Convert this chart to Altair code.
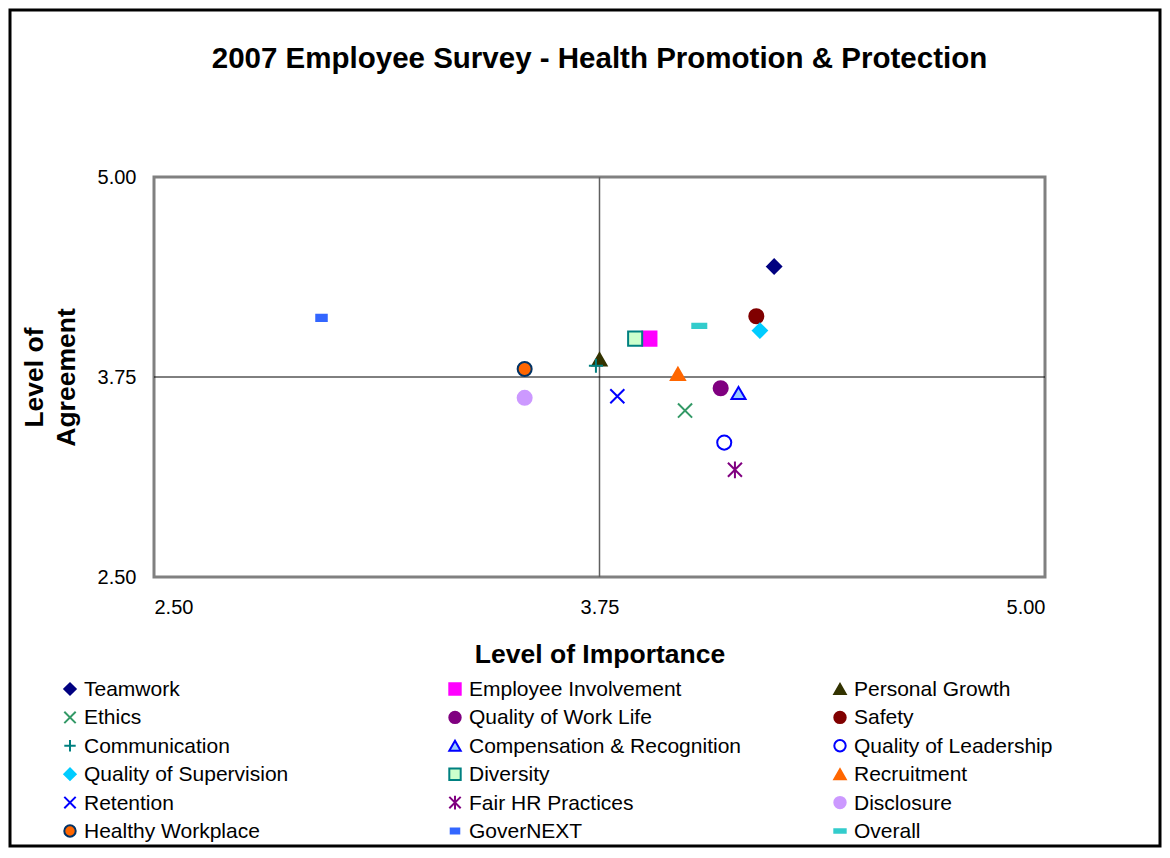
import altair as alt
import pandas as pd

items = ["Teamwork", "Employee Involvement", "Personal Growth",
         "Ethics", "Quality of Work Life", "Safety",
         "Communication", "Compensation & Recognition", "Quality of Leadership",
         "Quality of Supervision", "Diversity", "Recruitment",
         "Retention", "Fair HR Practices", "Disclosure",
         "Healthy Workplace", "GoverNEXT", "Overall"]
importance = [4.24, 3.89, 3.75, 3.99, 4.09, 4.19, 3.74, 4.14, 4.10,
              4.20, 3.85, 3.97, 3.80, 4.13, 3.54, 3.54, 2.97, 4.03]
agreement = [4.44, 3.99, 3.86, 3.54, 3.68, 4.13, 3.82, 3.65, 3.34,
             4.04, 3.99, 3.77, 3.63, 3.17, 3.62, 3.80, 4.12, 4.07]

X_PATH = "M-1,-1L1,1M-1,1L1,-1"
PLUS_PATH = "M-1,0L1,0M0,-1L0,1"
STAR_PATH = "M-1,-1L1,1M-1,1L1,-1M0,-1.2L0,1.2"
DASH_S = "M-0.75,-0.45L0.75,-0.45L0.75,0.45L-0.75,0.45Z"
DASH_L = "M-1,-0.3L1,-0.3L1,0.3L-1,0.3Z"

shapes = ["diamond", "square", "triangle-up",
          X_PATH, "circle", "circle",
          PLUS_PATH, "triangle-up", "circle",
          "diamond", "square", "triangle-up",
          X_PATH, STAR_PATH, "circle",
          "circle", DASH_S, DASH_L]
fills = ["#000080", "#FF00FF", "#333300",
         "transparent", "#800080", "#800000",
         "transparent", "#99CCFF", "transparent",
         "#00CCFF", "#CCFFCC", "#FF6600",
         "transparent", "transparent", "#CC99FF",
         "#FF6600", "#3366FF", "#33CCCC"]
strokes = ["#000080", "#FF00FF", "#333300",
           "#339966", "#800080", "#800000",
           "#008080", "#0000FF", "#0000FF",
           "#00CCFF", "#008080", "#FF6600",
           "#0000FF", "#800080", "#CC99FF",
           "#003366", "#3366FF", "#33CCCC"]
sizes = [200, 196, 220, 180, 175, 175, 190, 180, 175,
         175, 175, 220, 320, 190, 175, 175, 170, 280]

df = pd.DataFrame({"item": items, "importance": importance, "agreement": agreement})
legend_df = pd.DataFrame({"item": items,
                          "col": [i % 3 for i in range(len(items))],
                          "row": [i // 3 for i in range(len(items))]})

FONT = "Liberation Sans"
W, H = 891, 400
PAD_L, PAD_T, PAD_R, PAD_B = 146, 169, 117, 271

xs = alt.Scale(domain=[2.5, 5.0], nice=False, zero=False)
ys = alt.Scale(domain=[2.5, 5.0], nice=False, zero=False)
shape_s = alt.Scale(domain=items, range=shapes)
fill_s = alt.Scale(domain=items, range=fills)
stroke_s = alt.Scale(domain=items, range=strokes)

points = alt.Chart(df).mark_point(filled=True, opacity=1, strokeWidth=2).encode(
    x=alt.X("importance:Q", scale=xs,
            axis=alt.Axis(values=[2.5, 3.75, 5.0], format=".2f", title="Level of Importance",
                          labelPadding=20, titlePadding=24)),
    y=alt.Y("agreement:Q", scale=ys,
            axis=alt.Axis(values=[2.5, 3.75, 5.0], format=".2f", title=["Level of", "Agreement"],
                          labelPadding=18, titlePadding=17, titleLineHeight=32)),
    shape=alt.Shape("item:N", scale=shape_s, legend=None),
    fill=alt.Fill("item:N", scale=fill_s, legend=None),
    stroke=alt.Stroke("item:N", scale=stroke_s, legend=None),
    size=alt.Size("item:N", scale=alt.Scale(domain=items, range=sizes), legend=None),
)

vline = alt.Chart().mark_rule(color="#606060", strokeWidth=1.5).encode(x=alt.datum(3.75, scale=xs))
hline = alt.Chart().mark_rule(color="black", strokeWidth=1).encode(y=alt.datum(3.75, scale=ys))

frame = alt.Chart().mark_rect(fill="transparent", stroke="black", strokeWidth=3).encode(
    x=alt.value(-PAD_L + 2), x2=alt.value(W + PAD_R - 2),
    y=alt.value(-PAD_T + 2), y2=alt.value(H + PAD_B - 2))

main = alt.layer(frame, vline, hline, points)

# legend (3 columns x 6 rows) below the plot
lx = alt.Scale(domain=[0, 2], range=[-84, 686])
ly = alt.Scale(domain=[0, 5], range=[512, 654])
leg_base = alt.Chart(legend_df).encode(
    x=alt.X("col:Q", scale=lx, axis=None),
    y=alt.Y("row:Q", scale=ly, axis=None),
)
leg_sym = leg_base.mark_point(filled=True, opacity=1, strokeWidth=2, size=130).encode(
    shape=alt.Shape("item:N", scale=shape_s, legend=None),
    fill=alt.Fill("item:N", scale=fill_s, legend=None),
    stroke=alt.Stroke("item:N", scale=stroke_s, legend=None),
)
leg_txt = leg_base.mark_text(align="left", baseline="middle", dx=14, dy=1,
                             font=FONT, fontSize=21, color="black").encode(text="item:N")
legend = alt.layer(leg_sym, leg_txt)

chart = alt.layer(main, legend).resolve_scale(x="independent", y="independent").properties(
    width=W, height=H,
    padding={"left": PAD_L, "top": PAD_T, "right": PAD_R, "bottom": PAD_B},
    autosize=alt.AutoSizeParams(type="none"),
    title=alt.Title("2007 Employee Survey - Health Promotion & Protection",
                    font=FONT, fontSize=29.5, fontWeight="bold", color="black",
                    anchor="middle", offset=-66),
).configure_view(stroke="#808080", strokeWidth=3).configure_axis(
    domain=False, ticks=False, grid=False,
    labelFont=FONT, labelFontSize=20, labelColor="black",
    titleFont=FONT, titleFontSize=26.5, titleFontWeight="bold", titleColor="black",
)

chart.save("out.html", embed_options={"renderer": "svg", "actions": False})
